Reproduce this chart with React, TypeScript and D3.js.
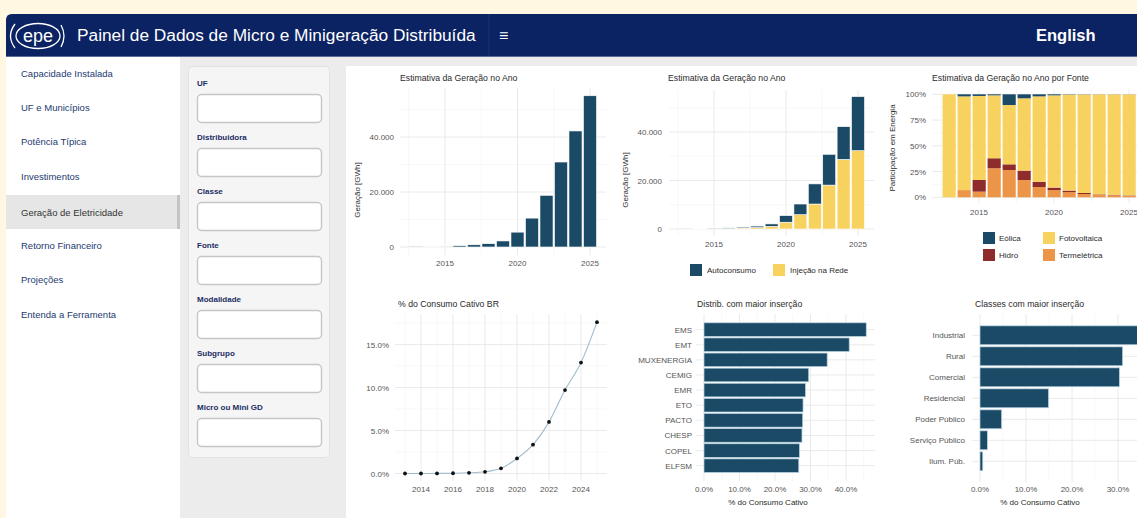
import React from 'react';
import * as d3 from 'd3';

// ---------- data ----------
const years = [2013, 2014, 2015, 2016, 2017, 2018, 2019, 2020, 2021, 2022, 2023, 2024, 2025];
const geracaoTotal = [100, 150, 250, 450, 800, 1200, 2200, 5400, 10500, 18800, 30900, 42200, 55000];
const injecaoRede = [50, 70, 130, 220, 400, 600, 1100, 2800, 5900, 10300, 18100, 28700, 32300];
const autoconsumo = [50, 80, 120, 230, 400, 600, 1000, 2700, 4400, 8300, 12700, 13500, 22300];

const fonteEolica = [0, 2, 1.6, 1, 10.4, 3.9, 2, 1, 0.3, 0.2, 0.1, 0.1, 0.1];
const fonteFotovoltaica = [100, 91, 81.6, 61.1, 57.6, 70.2, 83, 89.6, 93.2, 95.6, 97.1, 97.5, 98];
const fonteHidro = [0, 0, 11.3, 9.7, 5.5, 9.1, 5, 2.4, 1.5, 1, 0.5, 0.4, 0.3];
const fonteTermo = [0, 7, 5.5, 28.2, 26.5, 16.8, 10, 7, 5, 3.2, 2.3, 2, 1.6];

const consumoCativoBR = [0, 0, 0.01, 0.03, 0.08, 0.2, 0.6, 1.75, 3.35, 6.0, 9.7, 12.9, 17.6];

const distribNames = ['EMS', 'EMT', 'MUXENERGIA', 'CEMIG', 'EMR', 'ETO', 'PACTO', 'CHESP', 'COPEL', 'ELFSM'];
const distribValues = [45.7, 40.9, 34.7, 29.5, 28.6, 27.9, 27.8, 27.6, 26.9, 26.7];

const classeNames = ['Industrial', 'Rural', 'Comercial', 'Residencial', 'Poder Público', 'Serviço Público', 'Ilum. Púb.'];
const classeValues = [35, 31.0, 30.3, 14.9, 4.7, 1.6, 0.6];

const menuItems = ['Capacidade Instalada', 'UF e Municípios', 'Potência Típica', 'Investimentos', 'Geração de Eletricidade', 'Retorno Financeiro', 'Projeções', 'Entenda a Ferramenta'];
const filterLabels = ['UF', 'Distribuidora', 'Classe', 'Fonte', 'Modalidade', 'Subgrupo', 'Micro ou Mini GD'];

// ---------- style ----------
const FONT = "'Liberation Sans', Arial, Helvetica, sans-serif";
const NAVY = '#1b4a67';
const YELLOW = '#f8d25f';
const HIDRO = '#8e2b2b';
const TERMO = '#ec9549';
const GRID = '#e8e8e8';
const GRID_MINOR = '#f3f3f3';
const TICK = '#555';
const TITLE = '#2b2b2b';

const ptBR = d3.formatLocale({ decimal: ',', thousands: '.', grouping: [3], currency: ['R$', ''] });
const fmtThousands = ptBR.format(',');
const fmtPct1 = (v: number) => d3.format('.1f')(v) + '%';

type GridProps = { xs?: number[]; ys?: number[]; x0: number; x1: number; y0: number; y1: number; color: string; w: number };
const Grid = ({ xs = [], ys = [], x0, x1, y0, y1, color, w }: GridProps) => (
  <g>
    {xs.map((v, i) => <line key={'x' + i} x1={v} x2={v} y1={y0} y2={y1} stroke={color} strokeWidth={w} />)}
    {ys.map((v, i) => <line key={'y' + i} x1={x0} x2={x1} y1={v} y2={v} stroke={color} strokeWidth={w} />)}
  </g>
);

const T = (p: any) => <text fontFamily={FONT} {...p} />;

// ---------- chart 1 ----------
function Chart1() {
  const x = d3.scaleLinear().domain([2013, 2025]).range([416, 590]);
  const y = d3.scaleLinear().domain([0, 20000]).range([247, 192]);
  const pl = 400, pr = 606, pt = 88, pb = 255;
  const bw = (x(2014) - x(2013)) * 0.9;
  return (
    <g>
      <Grid xs={[2012.5, 2017.5, 2022.5].map(x)} ys={[10000, 30000, 50000].map(y)} x0={pl} x1={pr} y0={pt} y1={pb} color={GRID_MINOR} w={0.6} />
      <Grid xs={[2015, 2020, 2025].map(x)} ys={[0, 20000, 40000].map(y)} x0={pl} x1={pr} y0={pt} y1={pb} color={GRID} w={0.9} />
      {years.map((yr, i) => (
        <rect key={yr} x={x(yr) - bw / 2} width={bw} y={y(geracaoTotal[i])} height={y(0) - y(geracaoTotal[i])} fill={NAVY} stroke="#fff" strokeWidth={0.6} />
      ))}
      {[0, 20000, 40000].map(v => <T key={v} x={394} y={y(v) + 3} fontSize={8} fill={TICK} textAnchor="end">{fmtThousands(v)}</T>)}
      {[2015, 2020, 2025].map(v => <T key={v} x={x(v)} y={266} fontSize={8} fill={TICK} textAnchor="middle">{v}</T>)}
      <T x={400} y={81} fontSize={8.7} fill={TITLE}>Estimativa da Geração no Ano</T>
      <T transform="translate(360,190) rotate(-90)" fontSize={8} fill={TITLE} textAnchor="middle">Geração [GWh]</T>
    </g>
  );
}

// ---------- chart 2 ----------
function Chart2() {
  const x = d3.scaleLinear().domain([2015, 2025]).range([714, 858]);
  const y = d3.scaleLinear().domain([0, 20000]).range([229, 180.5]);
  const pl = 669, pr = 874, pt = 90, pb = 236;
  const bw = (x(2016) - x(2015)) * 0.9;
  return (
    <g>
      <Grid xs={[2012.5, 2017.5, 2022.5].map(x)} ys={[10000, 30000, 50000].map(y)} x0={pl} x1={pr} y0={pt} y1={pb} color={GRID_MINOR} w={0.6} />
      <Grid xs={[2015, 2020, 2025].map(x)} ys={[0, 20000, 40000].map(y)} x0={pl} x1={pr} y0={pt} y1={pb} color={GRID} w={0.9} />
      {years.map((yr, i) => (
        <g key={yr}>
          <rect x={x(yr) - bw / 2} width={bw} y={y(injecaoRede[i])} height={y(0) - y(injecaoRede[i])} fill={YELLOW} stroke="#fff" strokeWidth={0.6} />
          <rect x={x(yr) - bw / 2} width={bw} y={y(injecaoRede[i] + autoconsumo[i])} height={y(injecaoRede[i]) - y(injecaoRede[i] + autoconsumo[i])} fill={NAVY} stroke="#fff" strokeWidth={0.6} />
        </g>
      ))}
      {[0, 20000, 40000].map(v => <T key={v} x={662} y={y(v) + 3} fontSize={8} fill={TICK} textAnchor="end">{fmtThousands(v)}</T>)}
      {[2015, 2020, 2025].map(v => <T key={v} x={x(v)} y={247} fontSize={8} fill={TICK} textAnchor="middle">{v}</T>)}
      <T x={668} y={81} fontSize={8.7} fill={TITLE}>Estimativa da Geração no Ano</T>
      <T transform="translate(628,180) rotate(-90)" fontSize={8} fill={TITLE} textAnchor="middle">Geração [GWh]</T>
      <rect x={690} y={264} width={12} height={12} fill={NAVY} />
      <T x={707} y={273} fontSize={8} fill={TITLE}>Autoconsumo</T>
      <rect x={773} y={264} width={12} height={12} fill={YELLOW} />
      <T x={790} y={273} fontSize={8} fill={TITLE}>Injeção na Rede</T>
    </g>
  );
}

// ---------- chart 3 ----------
function Chart3() {
  const x = d3.scaleLinear().domain([2013, 2025]).range([949, 1129]);
  const y = d3.scaleLinear().domain([0, 100]).range([197.3, 94.3]);
  const pl = 932, pr = 1146, pt = 89, pb = 203;
  const bw = (x(2014) - x(2013)) * 0.9;
  const series = [
    { name: 'Termelétrica', vals: fonteTermo, color: TERMO },
    { name: 'Hidro', vals: fonteHidro, color: HIDRO },
    { name: 'Fotovoltaica', vals: fonteFotovoltaica, color: YELLOW },
    { name: 'Eólica', vals: fonteEolica, color: NAVY },
  ];
  const stack = d3.stack<number>().keys(series.map((_, k) => String(k))).value((i, key) => series[+key].vals[i]);
  const stacked = stack(years.map((_, i) => i));
  return (
    <g>
      <Grid xs={[2012.5, 2017.5, 2022.5].map(x)} ys={[12.5, 37.5, 62.5, 87.5].map(y)} x0={pl} x1={pr} y0={pt} y1={pb} color={GRID_MINOR} w={0.6} />
      <Grid xs={[2015, 2020, 2025].map(x)} ys={[0, 25, 50, 75, 100].map(y)} x0={pl} x1={pr} y0={pt} y1={pb} color={GRID} w={0.9} />
      {stacked.map((layer, k) => (
        <g key={k}>
          {layer.map((d, i) => (d[1] - d[0] > 0 ? (
            <rect key={i} x={x(years[i]) - bw / 2} width={bw} y={y(d[1])} height={y(d[0]) - y(d[1])} fill={series[k].color} />
          ) : null))}
        </g>
      ))}
      {years.map(yr => <line key={yr} x1={x(yr) - bw / 2} x2={x(yr) - bw / 2} y1={y(0)} y2={y(100)} stroke="#fff" strokeWidth={0.6} />)}
      {[0, 25, 50, 75, 100].map(v => <T key={v} x={926} y={y(v) + 3} fontSize={8} fill={TICK} textAnchor="end">{v + '%'}</T>)}
      {[2015, 2020, 2025].map(v => <T key={v} x={x(v)} y={215} fontSize={8} fill={TICK} textAnchor="middle">{v}</T>)}
      <T x={932} y={81} fontSize={8.7} fill={TITLE}>Estimativa da Geração no Ano por Fonte</T>
      <T transform="translate(895,148) rotate(-90)" fontSize={8} fill={TITLE} textAnchor="middle">Participação em Energia</T>
      <rect x={983} y={232} width={12} height={12} fill={NAVY} />
      <T x={999} y={241} fontSize={8} fill={TITLE}>Eólica</T>
      <rect x={1043} y={232} width={12} height={12} fill={YELLOW} />
      <T x={1059} y={241} fontSize={8} fill={TITLE}>Fotovoltaica</T>
      <rect x={983} y={249} width={12} height={12} fill={HIDRO} />
      <T x={999} y={258} fontSize={8} fill={TITLE}>Hidro</T>
      <rect x={1043} y={249} width={12} height={12} fill={TERMO} />
      <T x={1059} y={258} fontSize={8} fill={TITLE}>Termelétrica</T>
    </g>
  );
}

// ---------- chart 4 ----------
function Chart4() {
  const x = d3.scaleLinear().domain([2013, 2025]).range([405, 597]);
  const y = d3.scaleLinear().domain([0, 15]).range([473.5, 344.5]);
  const pl = 395, pr = 607, pt = 314, pb = 481;
  const line = d3.line<number>().x((_, i) => x(years[i])).y(v => y(v)).curve(d3.curveMonotoneX);
  return (
    <g>
      <Grid xs={[2013, 2015, 2017, 2019, 2021, 2023, 2025].map(x)} ys={[2.5, 7.5, 12.5, 17.5].map(y)} x0={pl} x1={pr} y0={pt} y1={pb} color={GRID_MINOR} w={0.6} />
      <Grid xs={[2014, 2016, 2018, 2020, 2022, 2024].map(x)} ys={[0, 5, 10, 15].map(y)} x0={pl} x1={pr} y0={pt} y1={pb} color={GRID} w={0.9} />
      <path d={line(consumoCativoBR) || ''} fill="none" stroke="#9fbccd" strokeWidth={1.1} />
      {consumoCativoBR.map((v, i) => <circle key={i} cx={x(years[i])} cy={y(v)} r={1.9} fill="#111" />)}
      {[0, 5, 10, 15].map(v => <T key={v} x={389} y={y(v) + 3} fontSize={8} fill={TICK} textAnchor="end">{fmtPct1(v)}</T>)}
      {[2014, 2016, 2018, 2020, 2022, 2024].map(v => <T key={v} x={x(v)} y={492} fontSize={8} fill={TICK} textAnchor="middle">{v}</T>)}
      <T x={398} y={307} fontSize={8.7} fill={TITLE}>% do Consumo Cativo BR</T>
    </g>
  );
}

// ---------- chart 5 ----------
function Chart5() {
  const x = d3.scaleLinear().domain([0, 10]).range([704, 739.5]);
  const y = d3.scaleBand().domain(distribNames).range([314.5, 480.8]).paddingInner(0.1).paddingOuter(0.55);
  const pl = 696, pr = 875, pt = 314, pb = 481;
  const bh = y.bandwidth();
  return (
    <g>
      <Grid xs={[5, 15, 25, 35, 45].map(x)} x0={pl} x1={pr} y0={pt} y1={pb} color={GRID_MINOR} w={0.6} />
      <Grid xs={[0, 10, 20, 30, 40].map(x)} ys={distribNames.map(n => (y(n) as number) + bh / 2)} x0={pl} x1={pr} y0={pt} y1={pb} color={GRID} w={0.9} />
      {distribNames.map((n, i) => (
        <rect key={n} x={x(0)} width={x(distribValues[i]) - x(0)} y={y(n) as number} height={bh} fill={NAVY} stroke="#b9d4e2" strokeWidth={0.7} />
      ))}
      {distribNames.map(n => <T key={n} x={692} y={(y(n) as number) + bh / 2 + 3} fontSize={8} fill={TICK} textAnchor="end">{n}</T>)}
      {[0, 10, 20, 30, 40].map(v => <T key={v} x={x(v)} y={492} fontSize={8} fill={TICK} textAnchor="middle">{fmtPct1(v)}</T>)}
      <T x={697} y={307} fontSize={8.7} fill={TITLE}>Distrib. com maior inserção</T>
      <T x={768} y={505} fontSize={8} fill={TITLE} textAnchor="middle">% do Consumo Cativo</T>
    </g>
  );
}

// ---------- chart 6 ----------
function Chart6() {
  const x = d3.scaleLinear().domain([0, 10]).range([980, 1026]);
  const y = d3.scaleBand().domain(classeNames).range([314.3, 482.3]).paddingInner(0.1).paddingOuter(0.55);
  const pl = 972, pr = 1150, pt = 314, pb = 482;
  const bh = y.bandwidth();
  return (
    <g>
      <Grid xs={[5, 15, 25, 35].map(x)} x0={pl} x1={pr} y0={pt} y1={pb} color={GRID_MINOR} w={0.6} />
      <Grid xs={[0, 10, 20, 30].map(x)} ys={classeNames.map(n => (y(n) as number) + bh / 2)} x0={pl} x1={pr} y0={pt} y1={pb} color={GRID} w={0.9} />
      {classeNames.map((n, i) => (
        <rect key={n} x={x(0)} width={x(classeValues[i]) - x(0)} y={y(n) as number} height={bh} fill={NAVY} stroke="#b9d4e2" strokeWidth={0.7} />
      ))}
      {classeNames.map(n => <T key={n} x={965} y={(y(n) as number) + bh / 2 + 3} fontSize={8} fill={TICK} textAnchor="end">{n}</T>)}
      {[0, 10, 20, 30].map(v => <T key={v} x={x(v)} y={492} fontSize={8} fill={TICK} textAnchor="middle">{fmtPct1(v)}</T>)}
      <T x={975} y={307} fontSize={8.7} fill={TITLE}>Classes com maior inserção</T>
      <T x={1040} y={505} fontSize={8} fill={TITLE} textAnchor="middle">% do Consumo Cativo</T>
    </g>
  );
}

// ---------- page ----------
export default function App() {
  const menuY = d3.scalePoint<number>().domain(d3.range(menuItems.length)).range([73, 314]);
  return (
    <svg width={1137} height={518} style={{ position: 'absolute', left: 0, top: 0, display: 'block' }}>
      <rect x={0} y={0} width={1137} height={518} fill="#fff7e1" />
      {/* header */}
      <path d="M6,57 L6,20 Q6,14 12,14 L1137,14 L1137,57 Z" fill="#0b2263" />
      <line x1={6} x2={1137} y1={56.5} y2={56.5} stroke="#5a6d9a" strokeWidth={1} />
      <line x1={489} x2={489} y1={14} y2={56} stroke="#1d3577" strokeWidth={1} />
      {/* logo */}
      <g stroke="#fff" fill="none" strokeWidth={1.3}>
        <ellipse cx={38} cy={36} rx={22} ry={12.5} />
        <path d="M15,24 Q6,36 15,48" />
        <path d="M61,25 Q67,36 61,47" />
      </g>
      <T x={38} y={42} fontSize={18} fill="#fff" textAnchor="middle">epe</T>
      <T x={77} y={41} fontSize={17.3} fill="#fff">Painel de Dados de Micro e Minigeração Distribuída</T>
      <T x={499} y={41} fontSize={16} fill="#fff">≡</T>
      <T x={1036} y={41} fontSize={16.5} fill="#fff" fontWeight="bold">English</T>

      {/* sidebar */}
      <rect x={6} y={57} width={174} height={461} fill="#fff" />
      <rect x={6} y={195} width={172} height={34} fill="#e6e6e6" />
      <rect x={177} y={195} width={3} height={34} fill="#c4c4c4" />
      {menuItems.map((m, i) => (
        <T key={m} x={21} y={(i === 4 ? 212 : (menuY(i) as number)) + 3.5} fontSize={9.5} fill={i === 4 ? '#333' : '#1d3a70'}>{m}</T>
      ))}

      {/* content bg */}
      <rect x={180} y={57} width={957} height={461} fill="#ececec" />
      <rect x={188.5} y={66.5} width={141} height={391} rx={4} fill="#f5f5f5" stroke="#e2e2e2" />
      {filterLabels.map((f, i) => (
        <g key={f}>
          <T x={197} y={86 + i * 54} fontSize={8} fontWeight="bold" fill="#1c2d63">{f}</T>
          <rect x={197.5} y={94.5 + i * 54} width={124} height={28} rx={4} fill="#fff" stroke="#c6c6c6" strokeWidth={1.4} />
        </g>
      ))}

      {/* charts panel */}
      <rect x={346} y={66} width={791} height={452} fill="#fff" />
      <Chart1 />
      <Chart2 />
      <Chart3 />
      <Chart4 />
      <Chart5 />
      <Chart6 />
    </svg>
  );
}
